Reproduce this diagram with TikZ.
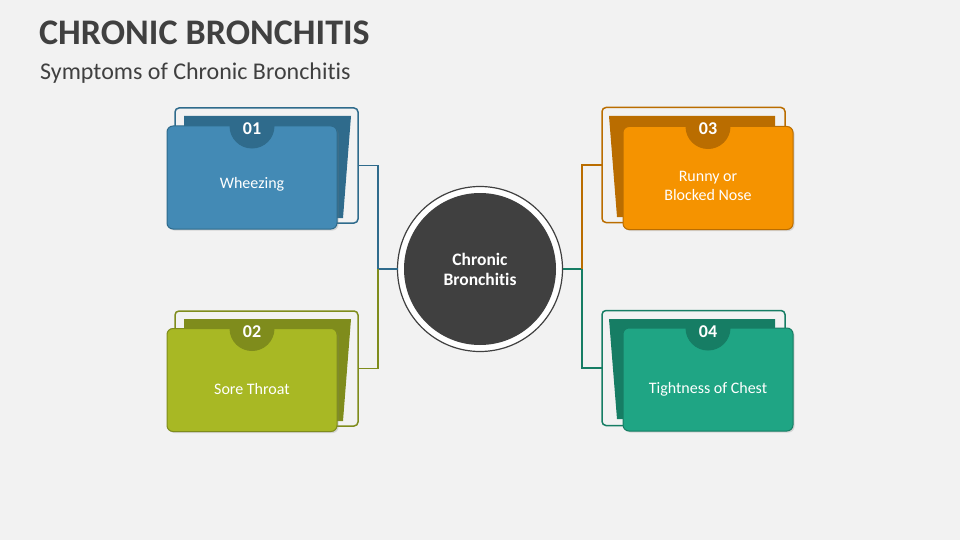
\documentclass[tikz,border=0pt]{standalone}
\usepackage{fontspec}
\setmainfont{Carlito}[Ligatures=NoCommon]
\usetikzlibrary{shadows}

\definecolor{bgGray}{HTML}{F2F2F2}
\definecolor{textGray}{HTML}{404040}
\definecolor{blueFront}{HTML}{438AB5}
\definecolor{blueBack}{HTML}{2F6B8C}
\definecolor{oliveFront}{HTML}{A8B824}
\definecolor{oliveBack}{HTML}{7F8C1C}
\definecolor{orangeFront}{HTML}{F59300}
\definecolor{orangeBack}{HTML}{BA6D00}
\definecolor{tealFront}{HTML}{1FA584}
\definecolor{tealBack}{HTML}{167D64}

\begin{document}
\begin{tikzpicture}[x = 1pt, y = -1pt,
		frame/.style={draw, rounded corners=4pt, line width=1.5pt, minimum width=183pt, minimum height=115pt, inner sep=0pt, outer sep=0pt},
		card/.style={rounded corners=6pt, line width=1pt, minimum width=170pt, minimum height=103pt, inner sep=0pt, outer sep=0pt,
			drop shadow={shadow xshift=1.5pt, shadow yshift=-1.5pt, opacity=0.25}},
		cardtext/.style={text=white, font=\fontsize{16}{19}\selectfont, align=center, inner sep=0pt},
		number/.style={text=white, font=\fontsize{18}{20}\selectfont\bfseries, inner sep=0pt},
		link/.style={line width=1.5pt},
		]
	
		% Background and page size
		\fill[bgGray] (0, 0) rectangle (960, 540);
		\useasboundingbox (0, 0) rectangle (960, 540);
		
		% Titles
		\node[anchor=base west, inner sep=0pt, text=textGray, font=\fontsize{36}{40}\selectfont\bfseries] (title) at (39, 45) {CHRONIC BRONCHITIS};
		\node[anchor=base west, inner sep=0pt, text=textGray, font=\fontsize{24}{28}\selectfont] (subtitle) at (40, 80) {Symptoms of Chronic Bronchitis};
		
		% Outline frames
		\node[frame, draw=blueBack] (frame01) at (266.5, 165.5) {};
		\node[frame, draw=oliveBack] (frame02) at (266.5, 368.5) {};
		\node[frame, draw=orangeBack] (frame03) at (693.5, 165) {};
		\node[frame, draw=tealBack] (frame04) at (693.5, 368) {};
		
		% Back sheets
		\fill[blueBack] (184, 116) -- (351, 116) -- (343, 218) -- (184, 218) -- cycle;
		\fill[oliveBack] (184, 319) -- (351, 319) -- (343, 421) -- (184, 421) -- cycle;
		\fill[orangeBack] (609, 116) -- (775, 116) -- (775, 217) -- (617, 217) -- cycle;
		\fill[tealBack] (609, 319) -- (775, 319) -- (775, 419) -- (617, 419) -- cycle;
		
		% Front cards
		\node[card, fill=blueFront, draw=blueBack] (front01) at (252, 177.5) {};
		\node[card, fill=oliveFront, draw=oliveBack] (front02) at (252, 380) {};
		\node[card, fill=orangeFront, draw=orangeBack] (front03) at (708, 178) {};
		\node[card, fill=tealFront, draw=tealBack] (front04) at (708, 379.5) {};
		
		% Notches
		\filldraw[blueBack, line width=1pt] (front01.north) ++(-22, 0) arc[start angle=180, end angle=0, radius=22] -- cycle;
		\filldraw[oliveBack, line width=1pt] (front02.north) ++(-22, 0) arc[start angle=180, end angle=0, radius=22] -- cycle;
		\filldraw[orangeBack, line width=1pt] (front03.north) ++(-22, 0) arc[start angle=180, end angle=0, radius=22] -- cycle;
		\filldraw[tealBack, line width=1pt] (front04.north) ++(-22, 0) arc[start angle=180, end angle=0, radius=22] -- cycle;
		
		% Numbers
		\node[number] (num01) at (252, 129) {01};
		\node[number] (num02) at (252, 332) {02};
		\node[number] (num03) at (708, 129) {03};
		\node[number] (num04) at (708, 332) {04};
		
		% Card texts
		\node[cardtext] (text01) at (252, 184) {Wheezing};
		\node[cardtext] (text02) at (252, 389) {Sore Throat};
		\node[cardtext] (text03) at (708, 186) {Runny or\\Blocked Nose};
		\node[cardtext] (text04) at (708, 389) {Tightness of Chest};
		
		% Central hub
		\node[circle, draw=textGray, line width=1.2pt, fill=white, minimum size=165pt, inner sep=0pt, outer sep=0pt] (hub) at (480, 269) {};
		\node[circle, fill=textGray, minimum size=152pt, inner sep=0pt] (hubDisk) at (hub) {};
		\node[text=white, align=center, font=\fontsize{17.5}{20}\selectfont\bfseries] (hubText) at (hub) {Chronic\\Bronchitis};
		
		% Connectors
		\coordinate (joinL) at (378, 269);
		\coordinate (joinR) at (582, 269);
		
		\draw[link, blueBack] (frame01.east) -| (joinL) -- (hub.west);
		\draw[link, oliveBack] (joinL) |- (frame02.east);
		\draw[link, tealBack] (hub.east) -- (joinR) |- (frame04.west);
		\draw[link, orangeBack] (joinR) |- (frame03.west);
		
	\end{tikzpicture}
\end{document}
